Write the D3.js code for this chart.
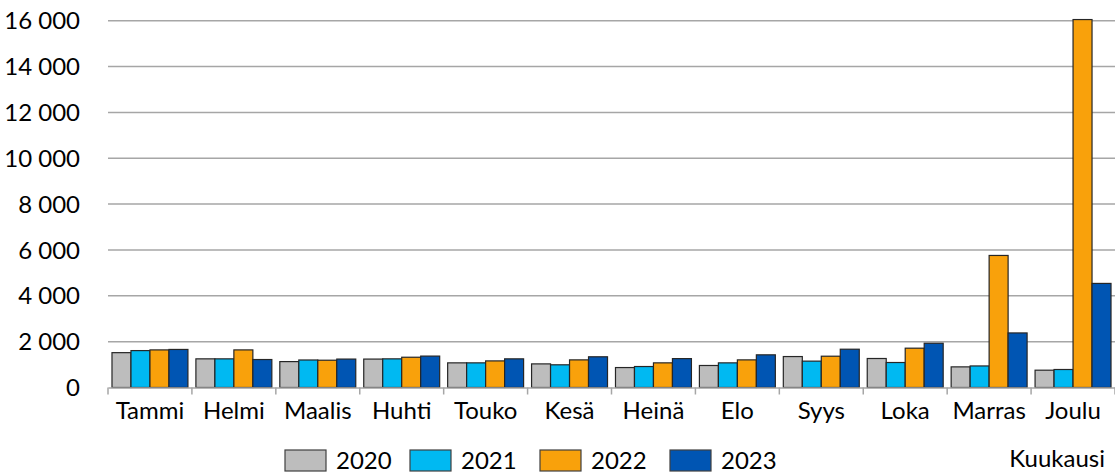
<!DOCTYPE html>
<html>
<head>
<meta charset="utf-8">
<script src="https://cdn.jsdelivr.net/npm/d3@7"></script>
<style>
  body { margin: 0; background: #fff; }
  svg text { font-family: Lato, "Open Sans", sans-serif; fill: #000; }
</style>
</head>
<body>
<svg id="chart" width="1115" height="475"></svg>
<script>
// data
var months = ["Tammi", "Helmi", "Maalis", "Huhti", "Touko", "Kesä", "Heinä", "Elo", "Syys", "Loka", "Marras", "Joulu"];
var years = ["2020", "2021", "2022", "2023"];
var v2020 = [1520, 1250, 1130, 1240, 1075, 1030, 870, 960, 1350, 1265, 900, 755];
var v2021 = [1610, 1250, 1200, 1250, 1075, 990, 915, 1075, 1150, 1090, 940, 785];
var v2022 = [1640, 1640, 1190, 1320, 1160, 1205, 1075, 1205, 1365, 1715, 5760, 16050];
var v2023 = [1660, 1220, 1240, 1370, 1250, 1340, 1260, 1425, 1670, 1930, 2380, 4540];
var yTicks = [0, 2000, 4000, 6000, 8000, 10000, 12000, 14000, 16000];
var colors = ["#bdbdbd", "#00b9f2", "#f9a10b", "#0055b3"];
var xTitle = "Kuukausi";

var series = [v2020, v2021, v2022, v2023];

var svg = d3.select("#chart"),
    mLeft = 108, mRight = 1115, mTop = 20.7, mBottom = 387.5,
    fontSize = "24px";

var x = d3.scaleBand().domain(months).range([mLeft, mRight]).paddingInner(0).paddingOuter(0);
var x1 = d3.scaleBand().domain(years).range([0, x.bandwidth()]).paddingOuter(0.21).paddingInner(0);
var y = d3.scaleLinear().domain([0, 16000]).range([mBottom, mTop]);

// gridlines
svg.append("g")
  .selectAll("line")
  .data(yTicks.filter(function(d) { return d > 0; }))
  .enter().append("line")
    .attr("x1", mLeft).attr("x2", mRight)
    .attr("y1", function(d) { return y(d); })
    .attr("y2", function(d) { return y(d); })
    .attr("stroke", "#a6a6a6")
    .attr("stroke-width", 1.5);

// y labels
var fmt = function(d) { return d3.format(",")(d).replace(/,/g, " "); };
svg.append("g")
  .selectAll("text")
  .data(yTicks)
  .enter().append("text")
    .attr("x", 80)
    .attr("y", function(d) { return y(d); })
    .attr("dy", "0.36em")
    .attr("text-anchor", "end")
    .style("font-size", fontSize)
    .text(fmt);

// bars
var groups = svg.append("g")
  .selectAll("g")
  .data(months)
  .enter().append("g")
    .attr("transform", function(d) { return "translate(" + x(d) + ",0)"; });

groups.selectAll("rect")
  .data(function(m, i) { return series.map(function(s, k) { return { year: years[k], value: s[i], k: k }; }); })
  .enter().append("rect")
    .attr("x", function(d) { return x1(d.year); })
    .attr("width", x1.bandwidth())
    .attr("y", function(d) { return y(d.value); })
    .attr("height", function(d) { return mBottom - y(d.value); })
    .attr("fill", function(d) { return colors[d.k]; })
    .attr("stroke", "#262626")
    .attr("stroke-width", 1.2);

// x axis
var xAxis = d3.axisBottom(x).tickSize(0).tickPadding(14);
var gx = svg.append("g")
  .attr("transform", "translate(0," + mBottom + ")")
  .call(xAxis);
gx.select(".domain").attr("stroke", "#a6a6a6").attr("stroke-width", 1.5);
gx.selectAll("text").style("font-size", fontSize).style("font-family", "Lato, 'Open Sans', sans-serif").attr("fill", "#000");

// boundary ticks between categories
svg.append("g")
  .selectAll("line")
  .data(months.concat(["end"]))
  .enter().append("line")
    .attr("x1", function(d) { return d === "end" ? mRight : x(d); })
    .attr("x2", function(d) { return d === "end" ? mRight : x(d); })
    .attr("y1", mBottom).attr("y2", mBottom + 7)
    .attr("stroke", "#a6a6a6")
    .attr("stroke-width", 1.5);

// legend
var legendX = d3.scaleOrdinal().domain(years).range([285, 410, 540, 670]);
var legend = svg.append("g")
  .selectAll("g")
  .data(years)
  .enter().append("g")
    .attr("transform", function(d) { return "translate(" + legendX(d) + ",450)"; });
legend.append("rect")
  .attr("width", 41).attr("height", 21)
  .attr("fill", function(d, i) { return colors[i]; })
  .attr("stroke", "#404040")
  .attr("stroke-width", 1.2);
legend.append("text")
  .attr("x", 51).attr("y", 19)
  .style("font-size", fontSize)
  .text(function(d) { return d; });

svg.append("text")
  .attr("x", 1105).attr("y", 467)
  .attr("text-anchor", "end")
  .style("font-size", fontSize)
  .text(xTitle);
</script>
</body>
</html>
